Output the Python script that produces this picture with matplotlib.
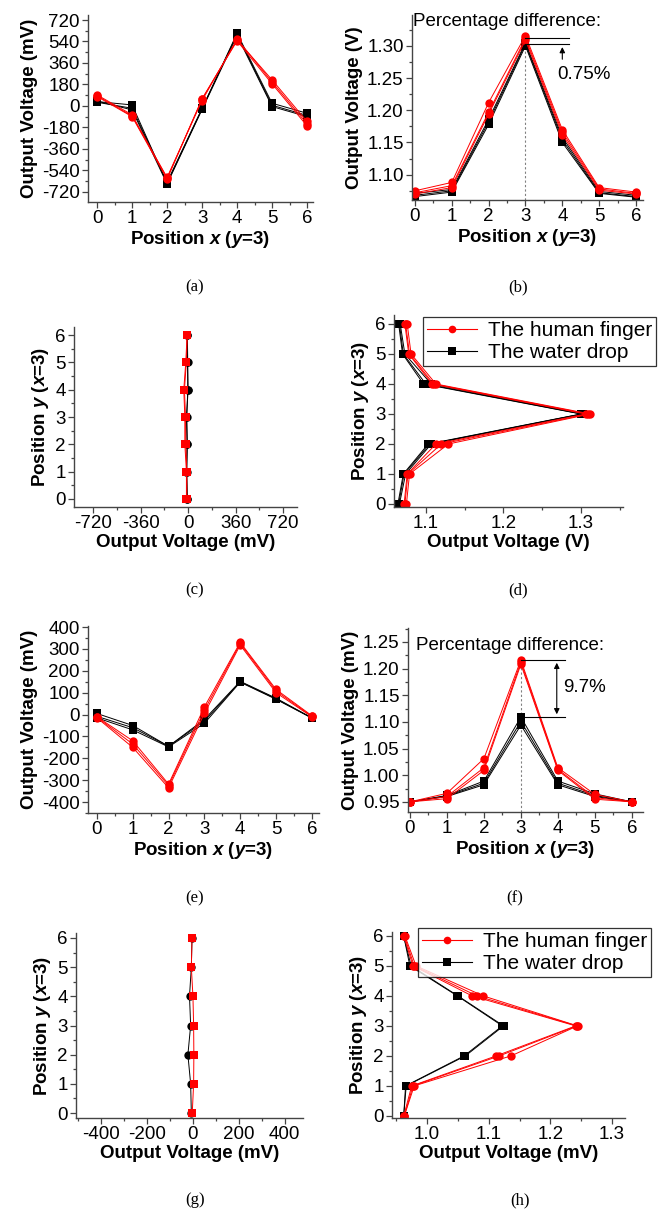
import matplotlib
matplotlib.use('Agg')
import matplotlib.pyplot as plt
from matplotlib.ticker import MultipleLocator, FormatStrFormatter
from matplotlib.lines import Line2D

plt.rcParams['font.family'] = ['Liberation Sans', 'DejaVu Sans']
plt.rcParams['mathtext.fontset'] = 'custom'
plt.rcParams['mathtext.it'] = 'Liberation Sans:italic:bold'
plt.rcParams['mathtext.rm'] = 'Liberation Sans:bold'
plt.rcParams['axes.unicode_minus'] = False

pos = [0, 1, 2, 3, 4, 5, 6]

# (a) output voltage (mV) along x, y=3
a_red = [[92, -75, -607, 56, 553, 218, -131],
         [85, -85, -600, 45, 560, 200, -150],
         [78, -90, -615, 60, 545, 185, -168]]
a_blk = [[36, 8, -648, -25, 609, 22, -62],
         [30, -20, -640, -20, 600, 5, -80],
         [40, -34, -655, -30, 590, -6, -90]]

# (b) output voltage (V) along x, y=3
b_red = [[1.075, 1.088, 1.212, 1.316, 1.170, 1.080, 1.073],
         [1.072, 1.083, 1.197, 1.312, 1.166, 1.078, 1.071],
         [1.070, 1.080, 1.194, 1.309, 1.162, 1.076, 1.070]]
b_blk = [[1.071, 1.077, 1.186, 1.305, 1.158, 1.074, 1.068],
         [1.068, 1.075, 1.182, 1.303, 1.154, 1.072, 1.066],
         [1.066, 1.073, 1.178, 1.300, 1.150, 1.071, 1.065]]

# (c) output voltage (mV) along y, x=3
c_red = [[-13, -13, -25, -25, -33, -18, -8],
         [-10, -10, -18, -20, -28, -14, -6]]
c_blk = [[-8, -13, -8, -13, 0, -5, -8],
         [-6, -10, -6, -10, -3, -3, -6]]

# (d) output voltage (V) along y, x=3
d_red = [[1.075, 1.079, 1.129, 1.312, 1.113, 1.081, 1.076],
         [1.073, 1.077, 1.120, 1.309, 1.110, 1.079, 1.074],
         [1.072, 1.076, 1.113, 1.306, 1.108, 1.078, 1.073]]
d_blk = [[1.066, 1.074, 1.107, 1.302, 1.107, 1.073, 1.067],
         [1.065, 1.072, 1.105, 1.301, 1.100, 1.071, 1.066],
         [1.064, 1.071, 1.103, 1.300, 1.097, 1.070, 1.065]]

# (e) output voltage (mV) along x, y=3
e_red = [[-10, -120, -318, 35, 330, 115, -5],
         [-12, -135, -325, 20, 325, 108, -8],
         [-15, -150, -335, 5, 318, 100, -10]]
e_blk = [[5, -50, -145, -22, 152, 75, -15],
         [-8, -60, -145, -30, 150, 72, -15],
         [-15, -70, -148, -40, 148, 70, -16]]

# (f) output voltage along x, y=3
f_red = [[0.950, 0.966, 1.031, 1.216, 1.014, 0.964, 0.950],
         [0.950, 0.960, 1.014, 1.212, 1.011, 0.958, 0.950],
         [0.950, 0.956, 1.009, 1.208, 1.009, 0.955, 0.950]]
f_blk = [[0.950, 0.962, 0.989, 1.109, 0.989, 0.965, 0.950],
         [0.950, 0.961, 0.985, 1.101, 0.985, 0.962, 0.950],
         [0.950, 0.960, 0.982, 1.094, 0.982, 0.960, 0.950]]

# (g) output voltage (mV) along y, x=3
g_red = [[-3, 3, 4, 3, 0, -7, -4]]
g_blk = [[-7, -10, -22, -10, -15, -7, -4]]

# (h) output voltage along y, x=3
h_red = [[0.963, 0.979, 1.136, 1.244, 1.091, 0.982, 0.964],
         [0.963, 0.977, 1.117, 1.243, 1.081, 0.979, 0.963],
         [0.962, 0.975, 1.112, 1.241, 1.073, 0.977, 0.962]]
h_blk = [[0.962, 0.966, 1.062, 1.124, 1.050, 0.974, 0.962],
         [0.962, 0.965, 1.060, 1.122, 1.049, 0.972, 0.962]]

lab_x = r'Position $x$ ($y$=3)'
lab_y = r'Position $y$ ($x$=3)'
legend_names = ['The human finger', 'The water drop']

W, H = 659, 1213
fig = plt.figure(figsize=(W / 100, H / 100), dpi=100)


def box(l, r, t, b):
    return fig.add_axes([l / W, 1 - b / H, (r - l) / W, (b - t) / H])


def style(ax):
    for s in ['top', 'right']:
        ax.spines[s].set_visible(False)
    for s in ['left', 'bottom']:
        ax.spines[s].set_color('#444444')
        ax.spines[s].set_linewidth(1.0)
    ax.tick_params(which='both', direction='out', color='#444444',
                   labelcolor='black', labelsize=13.5, width=0.9, pad=2)
    ax.tick_params(which='major', length=4)
    ax.tick_params(which='minor', length=2.5)


def traces(ax, red, blk, vertical=False, swap=False):
    rm, bm = ('s', 'o') if swap else ('o', 's')
    for tr in blk:
        xs, ys = (tr, pos) if vertical else (pos, tr)
        ax.plot(xs, ys, color='black', lw=0.7, marker=bm, ms=6, mew=0)
    for tr in red:
        xs, ys = (tr, pos) if vertical else (pos, tr)
        ax.plot(xs, ys, color='red', lw=0.7, marker=rm, ms=6, mew=0)


def xlabel_pos(ax):
    ax.set_xlabel(lab_x, fontsize=13.5, fontweight='bold', labelpad=1)
    ax.xaxis.set_major_locator(MultipleLocator(1))
    ax.xaxis.set_minor_locator(MultipleLocator(0.5))


def ylabel_pos(ax):
    ax.set_ylabel(lab_y, fontsize=13.5, fontweight='bold', labelpad=3)
    ax.yaxis.set_major_locator(MultipleLocator(1))
    ax.yaxis.set_minor_locator(MultipleLocator(0.5))


def add_legend(x, y):
    hs = [Line2D([], [], color='red', lw=0.8, marker='o', ms=5.5, mew=0),
          Line2D([], [], color='black', lw=0.8, marker='s', ms=5.5, mew=0)]
    lg = fig.legend(hs, legend_names, loc='upper left',
                    bbox_to_anchor=(x / W, 1 - y / H), fontsize=15,
                    frameon=True, fancybox=False, borderaxespad=0,
                    handlelength=2.4, handletextpad=0.5, borderpad=0.2,
                    labelspacing=0.15)
    lg.get_frame().set_edgecolor('black')
    lg.get_frame().set_linewidth(0.9)


# (a)
ax = box(88, 313, 15, 202)
style(ax)
traces(ax, a_red, a_blk)
ax.set_xlim(-0.26, 6.17)
ax.set_ylim(-806, 762)
ax.yaxis.set_major_locator(MultipleLocator(180))
ax.yaxis.set_minor_locator(MultipleLocator(90))
ax.set_ylabel('Output Voltage (mV)', fontsize=13.5, fontweight='bold', labelpad=3)
xlabel_pos(ax)

# (b)
ax = box(412, 643, 15, 200)
style(ax)
ax.plot([3, 3], [1.0607, 1.30], color='gray', lw=0.8, ls=(0, (2, 2)))
traces(ax, b_red, b_blk)
ax.set_xlim(-0.08, 6.19)
ax.set_ylim(1.0607, 1.348)
ax.yaxis.set_major_locator(MultipleLocator(0.05))
ax.yaxis.set_minor_locator(MultipleLocator(0.025))
ax.yaxis.set_major_formatter(FormatStrFormatter('%.2f'))
ax.set_ylabel('Output Voltage (V)', fontsize=13.5, fontweight='bold', labelpad=3)
xlabel_pos(ax)
ax.plot([3, 4.18], [1.313, 1.313], color='black', lw=0.8)
ax.plot([3, 4.18], [1.3025, 1.3025], color='black', lw=0.8)
ax.annotate('', xy=(4.0, 1.3025), xytext=(4.0, 1.275),
            arrowprops=dict(arrowstyle='-|>', color='black', lw=0.8, mutation_scale=8))
ax.text(-0.05, 1.338, 'Percentage difference:', fontsize=13.5, va='center', ha='left')
ax.text(3.86, 1.2555, '0.75%', fontsize=13.5, va='center', ha='left')

# (c)
ax = box(74, 297, 327, 507)
style(ax)
traces(ax, c_red, c_blk, vertical=True, swap=True)
ax.set_xlim(-866, 826)
ax.set_ylim(-0.3, 6.3)
ax.xaxis.set_major_locator(MultipleLocator(360))
ax.xaxis.set_minor_locator(MultipleLocator(180))
ax.set_xlabel('Output Voltage (mV)', fontsize=13.5, fontweight='bold', labelpad=1)
ylabel_pos(ax)

# (d)
ax = box(394, 623, 315, 507)
style(ax)
traces(ax, d_red, d_blk, vertical=True)
ax.set_xlim(1.059, 1.354)
ax.set_ylim(-0.1, 6.3)
ax.xaxis.set_major_locator(MultipleLocator(0.1))
ax.xaxis.set_minor_locator(MultipleLocator(0.05))
ax.xaxis.set_major_formatter(FormatStrFormatter('%.1f'))
ax.set_xlabel('Output Voltage (V)', fontsize=13.5, fontweight='bold', labelpad=1)
ylabel_pos(ax)
add_legend(423, 317)

# (e)
ax = box(88, 319, 626, 813)
style(ax)
traces(ax, e_red, e_blk)
ax.set_xlim(-0.25, 6.2)
ax.set_ylim(-450, 405)
ax.yaxis.set_major_locator(MultipleLocator(100))
ax.yaxis.set_minor_locator(MultipleLocator(50))
ax.set_ylabel('Output Voltage (mV)', fontsize=13.5, fontweight='bold', labelpad=3)
xlabel_pos(ax)

# (f)
ax = box(408, 643, 628, 812)
style(ax)
ax.plot([3, 3], [0.931, 1.21], color='gray', lw=0.8, ls=(0, (2, 2)))
traces(ax, f_red, f_blk)
ax.set_xlim(-0.05, 6.3)
ax.set_ylim(0.931, 1.276)
ax.yaxis.set_major_locator(MultipleLocator(0.05))
ax.yaxis.set_minor_locator(MultipleLocator(0.025))
ax.yaxis.set_major_formatter(FormatStrFormatter('%.2f'))
ax.set_ylabel('Output Voltage (mV)', fontsize=13.5, fontweight='bold', labelpad=3)
xlabel_pos(ax)
ax.plot([3, 4.2], [1.216, 1.216], color='black', lw=0.8)
ax.plot([3, 4.2], [1.109, 1.109], color='black', lw=0.8)
ax.annotate('', xy=(3.97, 1.216), xytext=(3.97, 1.109),
            arrowprops=dict(arrowstyle='<|-|>', color='black', lw=0.8, mutation_scale=8))
ax.text(0.16, 1.244, 'Percentage difference:', fontsize=13.5, va='center', ha='left')
ax.text(4.13, 1.164, '9.7%', fontsize=13.5, va='center', ha='left')

# (g)
ax = box(76, 303, 933, 1118)
style(ax)
traces(ax, g_red, g_blk, vertical=True, swap=True)
ax.set_xlim(-510, 480)
ax.set_ylim(-0.17, 6.17)
ax.xaxis.set_major_locator(MultipleLocator(200))
ax.xaxis.set_minor_locator(MultipleLocator(100))
ax.set_xlabel('Output Voltage (mV)', fontsize=13.5, fontweight='bold', labelpad=1)
ylabel_pos(ax)

# (h)
ax = box(392, 625, 932, 1118)
style(ax)
traces(ax, h_red, h_blk, vertical=True)
ax.set_xlim(0.943, 1.321)
ax.set_ylim(-0.07, 6.13)
ax.xaxis.set_major_locator(MultipleLocator(0.1))
ax.xaxis.set_minor_locator(MultipleLocator(0.05))
ax.xaxis.set_major_formatter(FormatStrFormatter('%.1f'))
ax.set_xlabel('Output Voltage (mV)', fontsize=13.5, fontweight='bold', labelpad=1)
ylabel_pos(ax)
add_legend(418, 928)

# panel captions
for lab, x, y in [('(a)', 195, 287), ('(b)', 518, 287),
                  ('(c)', 195, 590), ('(d)', 518, 590),
                  ('(e)', 195, 898), ('(f)', 515, 898),
                  ('(g)', 195, 1200), ('(h)', 520, 1200)]:
    fig.text(x / W, 1 - y / H, lab, family='Liberation Serif', fontsize=12,
             ha='center', va='center')

fig.savefig('out.png', dpi=100)
